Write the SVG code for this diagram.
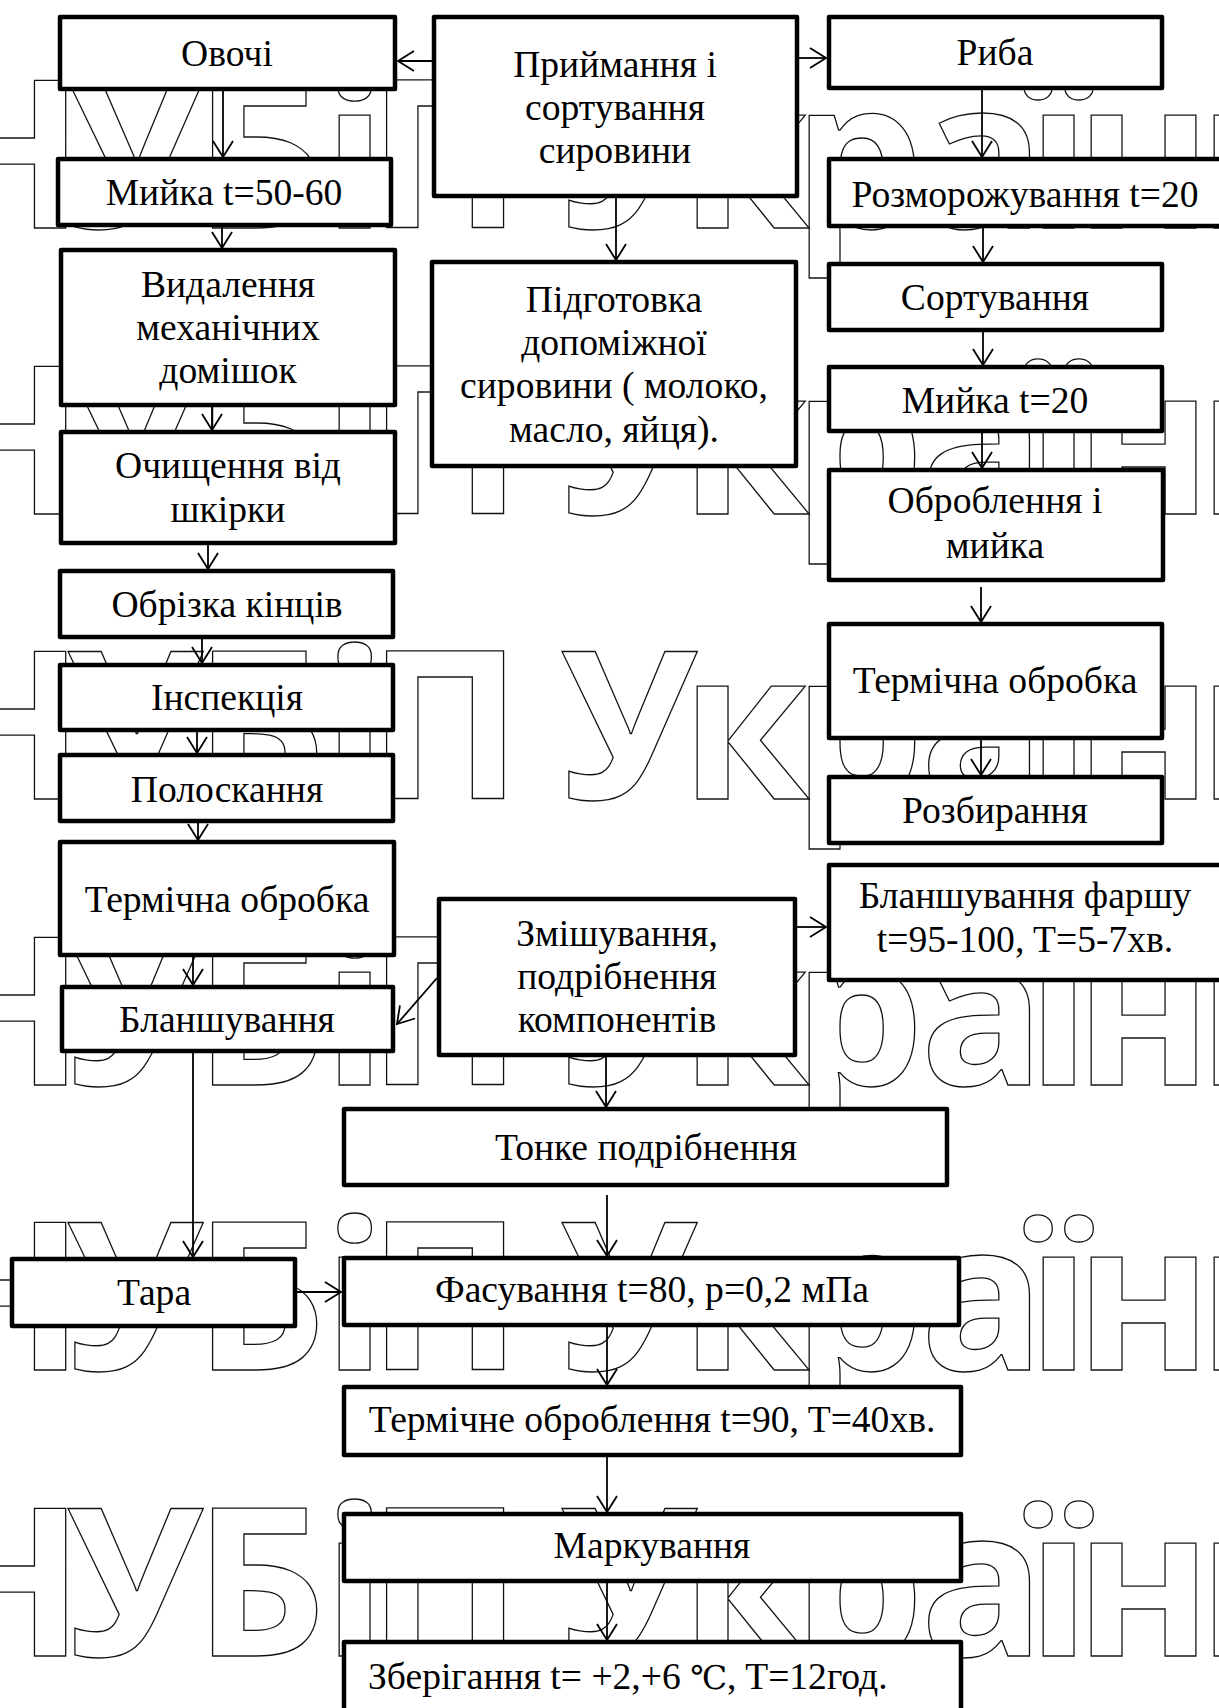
<svg xmlns="http://www.w3.org/2000/svg" xmlns:xlink="http://www.w3.org/1999/xlink" width="1219" height="1708" viewBox="0 0 1219 1708">
<style>
.box{fill:#fff;stroke:#000;stroke-width:4.5;stroke-linejoin:round}
.t{font-family:"Liberation Serif","Times New Roman",serif;font-size:37.6px;text-anchor:middle;fill:#000}
.ts{font-family:"Liberation Serif","Times New Roman",serif;font-size:37.6px;text-anchor:start;fill:#000}
.deg{font-family:"DejaVu Serif","Liberation Serif",serif;font-size:33px}
.wm{font-family:"Open Sans","Noto Sans",sans-serif;font-weight:700;font-size:207px;fill:none;stroke:#111;stroke-width:1.3}
.c{stroke:#000;stroke-width:1.8;fill:none;marker-end:url(#ah)}
</style>
<defs>
<marker id="ah" markerUnits="userSpaceOnUse" markerWidth="24" markerHeight="24" refX="18" refY="12" orient="auto" viewBox="0 0 24 24">
<path d="M2,2 L18,12 L2,22" fill="none" stroke="#000" stroke-width="1.8"/>
</marker>
<text id="wmrow" class="wm" x="-74 66 194 323 368 470 560 681 793 920 1027 1075 1198" y="0">НУБіП України</text>
</defs>
<g id="watermark">
<use xlink:href="#wmrow" x="0" y="228"/>
<use xlink:href="#wmrow" x="0" y="513.5"/>
<use xlink:href="#wmrow" x="0" y="799"/>
<use xlink:href="#wmrow" x="0" y="1084.5"/>
<use xlink:href="#wmrow" x="0" y="1370"/>
<use xlink:href="#wmrow" x="0" y="1655.5"/>
</g>
<g id="n-ovochi"><rect class="box" x="60" y="17" width="335" height="72"/><text class="t" x="227" y="66">Овочі</text></g>
<g id="n-myika1"><rect class="box" x="58" y="159" width="333" height="66"/><text class="t" x="224" y="205">Мийка t=50-60</text></g>
<g id="n-vydalennia"><rect class="box" x="61" y="250" width="334" height="155"/><text class="t" x="228" y="297">Видалення</text><text class="t" x="228" y="340">механічних</text><text class="t" x="228" y="383">домішок</text></g>
<g id="n-ochyshchennia"><rect class="box" x="61" y="432" width="334" height="111"/><text class="t" x="228" y="478">Очищення від</text><text class="t" x="228" y="522">шкірки</text></g>
<g id="n-obrizka"><rect class="box" x="60" y="571" width="333" height="66"/><text class="t" x="227" y="617">Обрізка кінців</text></g>
<g id="n-inspektsiia"><rect class="box" x="60" y="665" width="333" height="65"/><text class="t" x="227" y="710">Інспекція</text></g>
<g id="n-poloskannia"><rect class="box" x="60" y="755" width="333" height="66"/><text class="t" x="227" y="802">Полоскання</text></g>
<g id="n-termichna1"><rect class="box" x="60" y="842" width="334" height="113"/><text class="t" x="227" y="912">Термічна обробка</text></g>
<g id="n-blanshuvannia"><rect class="box" x="62" y="987" width="331" height="64"/><text class="t" x="227" y="1032">Бланшування</text></g>
<g id="n-pryimannia"><rect class="box" x="434" y="17" width="363" height="179"/><text class="t" x="615" y="77">Приймання і</text><text class="t" x="615" y="120">сортування</text><text class="t" x="615" y="163">сировини</text></g>
<g id="n-pidhotovka"><rect class="box" x="432" y="262" width="364" height="204"/><text class="t" x="614" y="312">Підготовка</text><text class="t" x="614" y="355">допоміжної</text><text class="t" x="614" y="398">сировини ( молоко,</text><text class="t" x="614" y="442">масло, яйця).</text></g>
<g id="n-zmishuvannia"><rect class="box" x="439" y="899" width="356" height="156"/><text class="t" x="617" y="946">Змішування,</text><text class="t" x="617" y="989">подрібнення</text><text class="t" x="617" y="1032">компонентів</text></g>
<g id="n-ryba"><rect class="box" x="829" y="17" width="333" height="71"/><text class="t" x="995" y="65">Риба</text></g>
<g id="n-rozmorozhuvannia"><rect class="box" x="829" y="159" width="393" height="67"/><text class="t" x="1025" y="207">Розморожування t=20</text></g>
<g id="n-sortuvannia"><rect class="box" x="829" y="264" width="333" height="66"/><text class="t" x="995" y="310">Сортування</text></g>
<g id="n-myika2"><rect class="box" x="829" y="367" width="333" height="64"/><text class="t" x="995" y="413">Мийка t=20</text></g>
<g id="n-obroblennia"><rect class="box" x="829" y="470" width="334" height="110"/><text class="t" x="995" y="513">Оброблення і</text><text class="t" x="995" y="558">мийка</text></g>
<g id="n-termichna2"><rect class="box" x="829" y="624" width="333" height="114"/><text class="t" x="995" y="693">Термічна обробка</text></g>
<g id="n-rozbyrannia"><rect class="box" x="829" y="777" width="333" height="66"/><text class="t" x="995" y="823">Розбирання</text></g>
<g id="n-blansh-farshu"><rect class="box" x="829" y="865" width="393" height="115"/><text class="t" x="1025" y="908">Бланшування фаршу</text><text class="t" x="1025" y="952">t=95-100, T=5-7хв.</text></g>
<g id="n-tonke"><rect class="box" x="344" y="1109" width="603" height="76"/><text class="t" x="646" y="1160">Тонке подрібнення</text></g>
<g id="n-tara"><rect class="box" x="12" y="1259" width="283" height="67"/><text class="t" x="154" y="1305">Тара</text></g>
<g id="n-fasuvannia"><rect class="box" x="344" y="1258" width="615" height="67"/><text class="t" x="652" y="1302">Фасування t=80, p=0,2 мПа</text></g>
<g id="n-termichne"><rect class="box" x="344" y="1387" width="617" height="68"/><text class="t" x="652" y="1432">Термічне оброблення t=90, T=40хв.</text></g>
<g id="n-markuvannia"><rect class="box" x="344" y="1514" width="617" height="67"/><text class="t" x="652" y="1558">Маркування</text></g>
<g id="n-zberihannia"><rect class="box" x="344" y="1642" width="617" height="80"/><text class="ts" x="368" y="1689">Зберігання t= +2,+6 <tspan class="deg">℃</tspan>, T=12год.</text></g>
<g id="connectors">
<line class="c" x1="432" y1="61" x2="398" y2="61"/>
<line class="c" x1="799" y1="58" x2="826" y2="58"/>
<line class="c" x1="223" y1="91" x2="223" y2="157"/>
<line class="c" x1="222" y1="227" x2="222" y2="248"/>
<line class="c" x1="212" y1="407" x2="212" y2="430"/>
<line class="c" x1="208" y1="545" x2="208" y2="569"/>
<line class="c" x1="202" y1="639" x2="202" y2="663"/>
<line class="c" x1="197" y1="732" x2="197" y2="753"/>
<line class="c" x1="198" y1="823" x2="198" y2="840"/>
<line class="c" x1="193" y1="957" x2="193" y2="985"/>
<line class="c" x1="193" y1="1053" x2="193" y2="1257"/>
<line class="c" x1="616" y1="198" x2="616" y2="260"/>
<line class="c" x1="437" y1="978" x2="397" y2="1024"/>
<line class="c" x1="797" y1="927" x2="826" y2="927"/>
<line class="c" x1="606" y1="1057" x2="606" y2="1107"/>
<line class="c" x1="607" y1="1195" x2="607" y2="1256"/>
<line class="c" x1="297" y1="1292" x2="341" y2="1292"/>
<line class="c" x1="607" y1="1327" x2="607" y2="1385"/>
<line class="c" x1="607" y1="1457" x2="607" y2="1512"/>
<line class="c" x1="607" y1="1583" x2="607" y2="1640"/>
<line class="c" x1="982" y1="90" x2="982" y2="157"/>
<line class="c" x1="983" y1="228" x2="983" y2="262"/>
<line class="c" x1="983" y1="332" x2="983" y2="365"/>
<line class="c" x1="982" y1="433" x2="982" y2="468"/>
<line class="c" x1="981" y1="587" x2="981" y2="622"/>
<line class="c" x1="981" y1="740" x2="981" y2="775"/>
</g>
</svg>
